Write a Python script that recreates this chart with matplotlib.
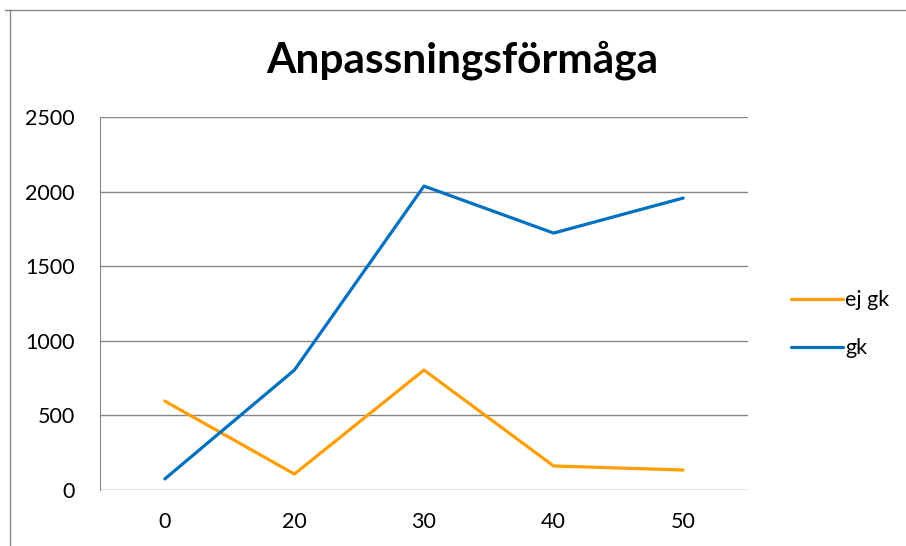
import matplotlib
matplotlib.use("Agg")
import matplotlib.pyplot as plt
from matplotlib.lines import Line2D

categories = ["0", "20", "30", "40", "50"]
ej_gk = [596, 107, 804, 161, 134]
gk = [74, 804, 2037, 1722, 1957]
yticks = [0, 500, 1000, 1500, 2000, 2500]

W, H = 906, 546
fig = plt.figure(figsize=(W / 100, H / 100), dpi=100)
fig.patch.set_facecolor("white")

# chart border (cropped)
fig.add_artist(Line2D([10 / W, 10 / W], [0, 1 - 10 / H], transform=fig.transFigure, color="#868686", lw=1))
fig.add_artist(Line2D([5 / W, 1], [1 - 10 / H, 1 - 10 / H], transform=fig.transFigure, color="#868686", lw=1))

ax = fig.add_axes([100 / W, 1 - 490 / H, 648 / W, (490 - 117) / H])
x = list(range(len(categories)))
l1, = ax.plot(x, ej_gk, color="#FF9E00", lw=2.3, solid_capstyle="round", label="ej gk")
l2, = ax.plot(x, gk, color="#0070C0", lw=2.3, solid_capstyle="round", label="gk")

ax.set_xlim(-0.5, len(categories) - 0.5)
ax.set_ylim(0, 2500)
ax.set_yticks(yticks)
ax.set_xticks(x)
ax.set_xticklabels(categories)
ax.yaxis.grid(True, color="#868686", lw=1)
ax.set_axisbelow(True)
for s in ["top", "right", "bottom"]:
    ax.spines[s].set_visible(False)
ax.spines["left"].set_color("#868686")
ax.tick_params(length=0, labelsize=15.5, colors="black")
ax.tick_params(axis="y", pad=18)
ax.tick_params(axis="x", pad=16)
for lab in ax.get_xticklabels() + ax.get_yticklabels():
    lab.set_fontfamily("Lato")

fig.text(462 / W, 1 - 60 / H, "Anpassningsförmåga", ha="center", va="center",
         fontsize=30.5, fontweight="bold", fontfamily="Lato")

leg = fig.legend(handles=[l1, l2], loc="upper left", bbox_to_anchor=(772 / W, 1 - 271 / H),
                 frameon=False, prop={"family": "Lato", "size": 15.5}, handlelength=2.4,
                 handletextpad=0.1, labelspacing=1.3)

fig.savefig("out.png", dpi=100, facecolor="white")
